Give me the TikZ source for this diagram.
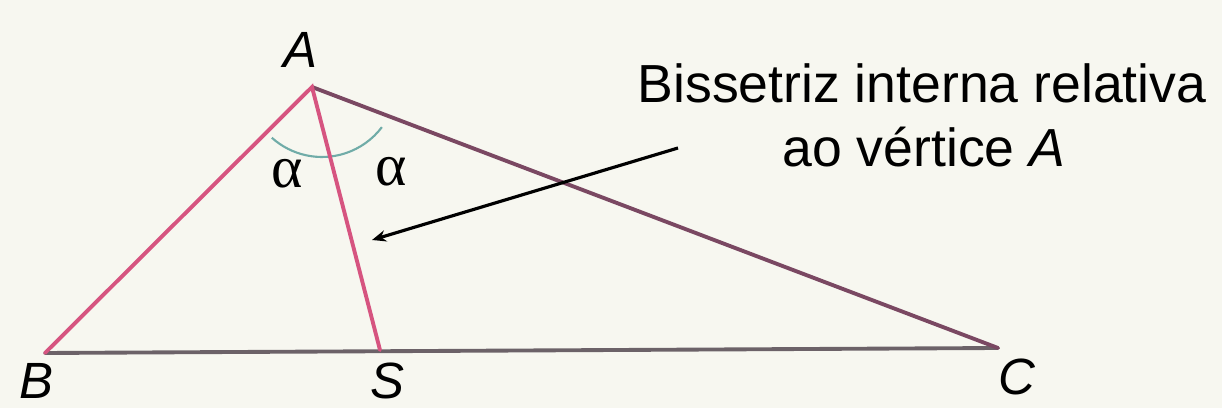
\documentclass[tikz,border=0pt]{standalone}
\usepackage{fontspec}
\setmainfont{Liberation Sans}
\newfontfamily\grkfont{Liberation Serif}
\usepackage{xcolor}
\usepackage{tikz}
\usetikzlibrary{arrows,arrows.meta,positioning,calc}
\definecolor{paper}{RGB}{247,247,240}
\definecolor{sidepink}{RGB}{214,84,128}
\definecolor{sidemauve}{RGB}{122,72,98}
\definecolor{basegray}{RGB}{108,98,104}
\definecolor{arcteal}{RGB}{112,172,168}

\begin{document}
\begin{tikzpicture}[x=0.02cm, y=0.02cm,
  side/.style={line width=2.2pt, line cap=round},
  vlbl/.style={font=\fontsize{29}{29}\selectfont\itshape, inner sep=0pt},
  ang/.style={font=\grkfont\fontsize{34}{34}\selectfont, inner sep=0pt},
  txt/.style={font=\fontsize{30.5}{31}\selectfont, inner sep=0pt, anchor=base},
  arc/.style={draw=arcteal, line width=1.2pt},
  arr/.style={->, >={Stealth[length=8pt, width=6.5pt]}, line width=1.8pt}
]
\fill[paper] (0,0) rectangle (1222,408);

\coordinate (A) at (312,321);
\coordinate (B) at (45,55);
\coordinate (S) at (380,58);
\coordinate (C) at (998,60);

\draw[arc] ($(A)+(10,5)$) ++(228:75) arc[start angle=228, end angle=323, radius=75];

\draw[side, basegray] (B) -- (C);
\draw[side, sidemauve] (A) -- (C);
\draw[side, sidepink] (B) -- (A) -- (S);

\node[vlbl] (lA) at (300,358) {A};
\node[vlbl] (lB) at (36,27)   {B};
\node[vlbl] (lS) at (387,27)  {S};
\node[vlbl] (lC) at (1017,31) {C};

\node[ang] (al) at (287,234) {α};
\node[ang] (ar) at (391,236) {α};

\node[txt] (bis1) at (922,305) {Bissetriz interna relativa};
\node[txt] (bis2) at (924,241) {ao vértice \textit{A}};

\coordinate (tail) at (678,260);
\coordinate (tip)  at (372,168);
\draw[arr] (tail) -- (tip);
\end{tikzpicture}
\end{document}
